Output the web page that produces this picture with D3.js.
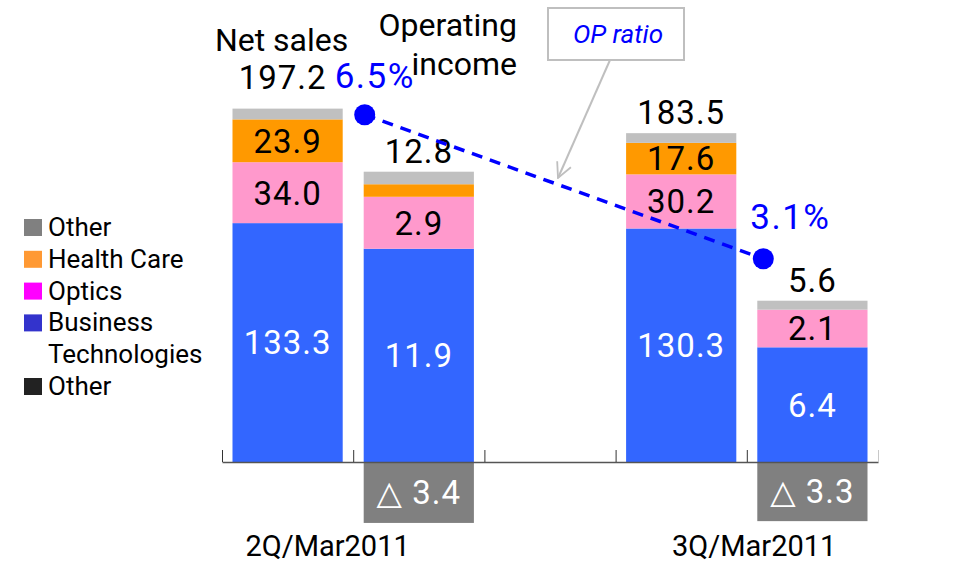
<!DOCTYPE html>
<html>
<head>
<meta charset="utf-8">
<script src="https://cdn.jsdelivr.net/npm/d3@7"></script>
<style>
  body { margin: 0; background: #fff; }
  svg { display: block; font-family: Roboto, "Liberation Sans", "DejaVu Sans", sans-serif; }
</style>
</head>
<body>
<div id="chart"></div>
<script>
var svgWidth = 964;
var svgHeight = 563;

// bars: net sales / operating income for each quarter, with an empty slot between
var slots = ["ns2", "op2", "gap", "ns3", "op3"];
var bars = ["ns2", "op2", "ns3", "op3"];
var isSales = [true, false, true, false];
var businessTech = [133.3, 11.9, 130.3, 6.4];
var optics = [34.0, 2.9, 30.2, 2.1];
var healthCare = [23.9, 0.7, 17.6, 0.0];
var otherPos = [6.0, 0.7, 5.4, 0.5];
var otherNeg = [0, -3.4, 0, -3.3];
var totals = ["197.2", "12.8", "183.5", "5.6"];
var opRatio = [6.5, 3.1];
var opRatioLabels = ["6.5%", "3.1%"];
var periods = ["2Q/Mar2011", "3Q/Mar2011"];
var legendLabels = [["Other"], ["Health Care"], ["Optics"], ["Business", "Technologies"], ["Other"]];
var legendColors = ["#808080", "#ff9933", "#ff00ff", "#3333cc", "#222222"];

var seriesColors = ["#3366ff", "#ff99cc", "#ff9900", "#c0c0c0"];
var seriesText = ["#fff", "#000", "#000", "#000"];
var seriesVals = [businessTech, optics, healthCare, otherPos];

var svg = d3.select("#chart")
  .append("svg")
  .attr("width", svgWidth)
  .attr("height", svgHeight);

var x = d3.scaleBand()
  .domain(slots)
  .range([222, 878])
  .paddingInner(0.16)
  .paddingOuter(0.08);

// net sales and operating income use their own scales (10x apart)
var ySales = d3.scaleLinear().domain([0, 250]).range([462, 14]);
var yOp = d3.scaleLinear().domain([0, 25]).range([462, 14]);
var yRatio = d3.scaleLinear().domain([0, 10]).range([390, -33.5]);

function yFor(i) { return isSales[i] ? ySales : yOp; }

// stacked segments
var segs = [];
bars.forEach(function(b, i) {
  var base = 0;
  seriesVals.forEach(function(vals, s) {
    var v = vals[i];
    segs.push({ bar: b, i: i, s: s, y0: base, y1: base + v, v: v });
    base += v;
  });
});

var barGroup = svg.append("g");
barGroup.selectAll("rect.seg")
  .data(segs.filter(function(d) { return d.v > 0; }))
  .enter()
  .append("rect")
  .attr("class", "seg")
  .attr("x", function(d) { return x(d.bar); })
  .attr("width", x.bandwidth())
  .attr("y", function(d) { return yFor(d.i)(d.y1); })
  .attr("height", function(d) { return yFor(d.i)(d.y0) - yFor(d.i)(d.y1); })
  .attr("fill", function(d) { return seriesColors[d.s]; });

barGroup.selectAll("text.seg")
  .data(segs.filter(function(d) {
    return d.s < 3 && (yFor(d.i)(d.y0) - yFor(d.i)(d.y1)) > 25;
  }))
  .enter()
  .append("text")
  .attr("class", "seg")
  .attr("x", function(d) { return x(d.bar) + x.bandwidth() / 2; })
  .attr("y", function(d) { return (yFor(d.i)(d.y0) + yFor(d.i)(d.y1)) / 2; })
  .attr("dy", "0.36em")
  .attr("text-anchor", "middle")
  .attr("font-size", 33)
  .attr("letter-spacing", 1)
  .attr("fill", function(d) { return seriesText[d.s]; })
  .text(function(d) { return d.v.toFixed(1); });

// negative "Other" below the axis
var negs = bars.map(function(b, i) { return { bar: b, i: i, v: otherNeg[i] }; })
  .filter(function(d) { return d.v < 0; });

barGroup.selectAll("rect.neg")
  .data(negs)
  .enter()
  .append("rect")
  .attr("class", "neg")
  .attr("x", function(d) { return x(d.bar); })
  .attr("width", x.bandwidth())
  .attr("y", function(d) { return yFor(d.i)(0); })
  .attr("height", function(d) { return yFor(d.i)(d.v) - yFor(d.i)(0); })
  .attr("fill", "#808080");

barGroup.selectAll("text.neg")
  .data(negs)
  .enter()
  .append("text")
  .attr("class", "neg")
  .attr("x", function(d) { return x(d.bar) + x.bandwidth() / 2; })
  .attr("y", function(d) { return (yFor(d.i)(d.v) + yFor(d.i)(0)) / 2; })
  .attr("dy", "0.36em")
  .attr("text-anchor", "middle")
  .attr("font-size", 33)
  .attr("letter-spacing", 1)
  .attr("fill", "#fff")
  .text(function(d) { return "\u25B3 " + Math.abs(d.v).toFixed(1); });

// totals on top of each bar
barGroup.selectAll("text.total")
  .data(totals)
  .enter()
  .append("text")
  .attr("class", "total")
  .attr("x", function(t, i) { return x(bars[i]) + x.bandwidth() / 2 + (i === 0 ? -5 : 0); })
  .attr("y", function(t, i) {
    var top = businessTech[i] + optics[i] + healthCare[i] + otherPos[i];
    return yFor(i)(top) - (i === 0 ? 20 : 9);
  })
  .attr("text-anchor", "middle")
  .attr("font-size", 33)
  .attr("letter-spacing", 1)
  .text(function(t) { return t; });

// axis with ticks pointing up at slot edges
var xEdge = d3.scaleLinear().domain([0, slots.length]).range([222, 878]);
var axis = svg.append("g")
  .attr("transform", "translate(0,462)")
  .call(d3.axisBottom(xEdge).tickValues(d3.range(slots.length + 1)).tickSize(-12).tickSizeOuter(0).tickFormat(""));
axis.select(".domain").attr("stroke", "#555").attr("stroke-width", 1.5);
axis.selectAll(".tick line").attr("stroke", function(d) { return d === slots.length ? "#c8c8c8" : "#333"; });

// period labels
svg.selectAll("text.period")
  .data(periods)
  .enter()
  .append("text")
  .attr("class", "period")
  .attr("x", function(p, i) {
    var a = i === 0 ? x("ns2") : x("ns3");
    return a + x.bandwidth() / 2 + (i === 0 ? 40 : 73);
  })
  .attr("y", 556)
  .attr("text-anchor", "middle")
  .attr("font-size", 29)
  .text(function(p) { return p; });

// headers
svg.append("text")
  .attr("x", x("ns2") + x.bandwidth() / 2 - 6)
  .attr("y", 51)
  .attr("text-anchor", "middle")
  .attr("font-size", 32)
  .text("Net sales");
svg.append("text")
  .attr("x", 517).attr("y", 36)
  .attr("text-anchor", "end")
  .attr("font-size", 32)
  .text("Operating");
svg.append("text")
  .attr("x", 517).attr("y", 75)
  .attr("text-anchor", "end")
  .attr("font-size", 32)
  .text("income");

// OP ratio line
var ratioPts = opRatio.map(function(v, i) {
  return { x: x(i === 0 ? "op2" : "op3") + (i === 0 ? 1 : 6), y: yRatio(v), v: v, label: opRatioLabels[i] };
});
svg.append("path")
  .datum(ratioPts)
  .attr("d", d3.line().x(function(d) { return d.x; }).y(function(d) { return d.y; }))
  .attr("fill", "none")
  .attr("stroke", "#0000ff")
  .attr("stroke-width", 3.5)
  .attr("stroke-dasharray", "11,8");
svg.selectAll("circle.ratio")
  .data(ratioPts)
  .enter()
  .append("circle")
  .attr("class", "ratio")
  .attr("cx", function(d) { return d.x; })
  .attr("cy", function(d) { return d.y; })
  .attr("r", 10.5)
  .attr("fill", "#0000ff");
svg.selectAll("text.ratio")
  .data(ratioPts)
  .enter()
  .append("text")
  .attr("class", "ratio")
  .attr("x", function(d, i) { return d.x + (i === 0 ? -30 : -13); })
  .attr("y", function(d, i) { return d.y - (i === 0 ? 27 : 30); })
  .attr("font-size", 35)
  .attr("letter-spacing", 1.5)
  .attr("fill", "#0000ff")
  .text(function(d) { return d.label; });

// callout
var defs = svg.append("defs");
defs.append("marker")
  .attr("id", "openArrow")
  .attr("viewBox", "0 0 12 12")
  .attr("refX", 11).attr("refY", 6)
  .attr("markerWidth", 9).attr("markerHeight", 9)
  .attr("markerUnits", "strokeWidth")
  .attr("orient", "auto")
  .append("path")
  .attr("d", "M1,1 L11,6 L1,11")
  .attr("fill", "none")
  .attr("stroke", "#bfbfbf")
  .attr("stroke-width", 1.2);
svg.append("line")
  .attr("x1", 610).attr("y1", 60)
  .attr("x2", 558).attr("y2", 178)
  .attr("stroke", "#bfbfbf")
  .attr("stroke-width", 2)
  .attr("marker-end", "url(#openArrow)");
svg.append("rect")
  .attr("x", 548).attr("y", 8)
  .attr("width", 136).attr("height", 52)
  .attr("fill", "#fff")
  .attr("stroke", "#bfbfbf")
  .attr("stroke-width", 2);
svg.append("text")
  .attr("x", 618).attr("y", 43)
  .attr("text-anchor", "middle")
  .attr("font-size", 26)
  .attr("font-style", "italic")
  .attr("fill", "#0000ff")
  .text("OP ratio");

// legend
var legend = svg.append("g");
var lineIdx = [0, 1, 2, 3, 5];
legendLabels.forEach(function(lines, i) {
  var base = 236 + lineIdx[i] * 31.8;
  legend.append("rect")
    .attr("x", 24).attr("y", base - 17)
    .attr("width", 18).attr("height", 17)
    .attr("fill", legendColors[i]);
  lines.forEach(function(t, k) {
    legend.append("text")
      .attr("x", 48).attr("y", base + k * 31.8)
      .attr("font-size", 26)
      .text(t);
  });
});
</script>
</body>
</html>
